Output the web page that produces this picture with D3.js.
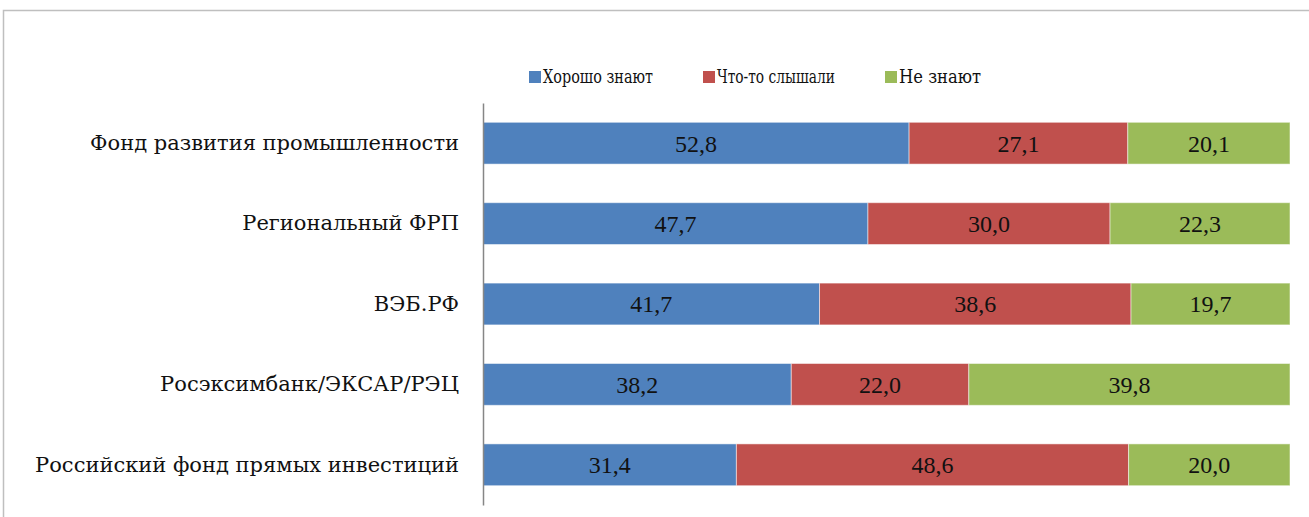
<!DOCTYPE html>
<html><head><meta charset="utf-8">
<script src="https://cdn.jsdelivr.net/npm/d3@7/dist/d3.min.js"></script>
<style>body{margin:0;background:#fff}svg{display:block}</style>
</head><body>
<script>
const categories = ["Фонд развития промышленности","Региональный ФРП","ВЭБ.РФ","Росэксимбанк/ЭКСАР/РЭЦ","Российский фонд прямых инвестиций"];
const seriesNames = ["Хорошо знают","Что-то слышали","Не знают"];
const knowWell = [52.8,47.7,41.7,38.2,31.4];
const heard = [27.1,30.0,38.6,22.0,48.6];
const dontKnow = [20.1,22.3,19.7,39.8,20.0];
const colors = ["#4F81BD","#C0504D","#9BBB59"];

const W=1309,H=517;
const svg=d3.select("body").append("svg").attr("width",W).attr("height",H);
const font="'Liberation Serif','DejaVu Serif',serif";
const cyrFont="'DejaVu Serif','Liberation Serif',serif";

// frame
svg.append("rect").attr("x",3.5).attr("y",10.5).attr("width",W+10).attr("height",H+10)
  .attr("fill","none").attr("stroke","#BFBFBF").attr("stroke-width",1.5);

const x=d3.scaleLinear().domain([0,100]).range([483,1290]);
const y=d3.scaleBand().domain(categories).range([103,505]).paddingInner(0.48).paddingOuter(0.24);

const values=[knowWell,heard,dontKnow];
const rows=categories.map((c,i)=>({cat:c,vals:values.map(v=>v[i])}));
const stack=d3.stack().keys([0,1,2]).value((d,k)=>d.vals[k])(rows);

stack.forEach((layer,k)=>{
  const g=svg.append("g");
  g.selectAll("rect").data(layer).join("rect")
    .attr("x",d=>x(d[0])).attr("width",d=>x(d[1])-x(d[0]))
    .attr("y",d=>y(d.data.cat)).attr("height",y.bandwidth())
    .attr("fill",colors[k]).attr("stroke","#fff").attr("stroke-opacity",0.5).attr("stroke-width",1);
  g.selectAll("text").data(layer).join("text")
    .attr("x",d=>(x(d[0])+x(d[1]))/2).attr("y",d=>y(d.data.cat)+y.bandwidth()/2)
    .attr("dy","0.35em").attr("text-anchor","middle")
    .style("font-family",font).attr("font-size",24).attr("fill","#111")
    .text(d=>d3.format(".1f")(d[1]-d[0]).replace(".",","));
});

// y axis
const ax=svg.append("g").attr("transform","translate(483,0)").call(d3.axisLeft(y).tickSize(0).tickPadding(24));
ax.attr("font-family",null);
ax.select(".domain").attr("stroke","#868686").attr("stroke-width",1.5);
ax.selectAll("text").style("font-family",cyrFont).attr("font-size",21).attr("fill","#111");

// legend
const legX=[529,703,885];
const legW=[110,118,82];
const leg=svg.append("g");
seriesNames.forEach((n,i)=>{
  leg.append("rect").attr("x",legX[i]).attr("y",71).attr("width",12).attr("height",12).attr("fill",colors[i]);
  leg.append("text").attr("x",legX[i]+14).attr("y",83).style("font-family",cyrFont).attr("font-size",19)
    .attr("textLength",legW[i]).attr("lengthAdjust","spacingAndGlyphs").attr("fill","#111").text(n);
});
</script>
</body></html>
